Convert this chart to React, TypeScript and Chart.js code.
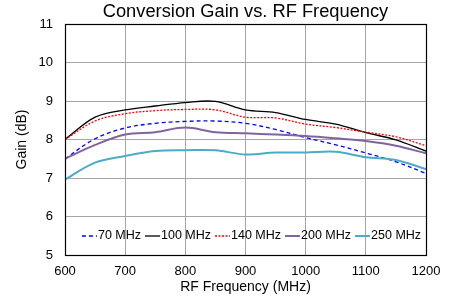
import React, { useEffect, useRef } from "react";
import { Chart, registerables } from "chart.js";

Chart.register(...registerables);

// RF frequency (MHz)
const FREQ = [600, 650, 700, 750, 800, 850, 900, 950, 1000, 1050, 1100, 1150, 1200];

// Conversion gain (dB) per IF frequency
const G70 = [7.5, 8.02, 8.3, 8.42, 8.47, 8.48, 8.42, 8.26, 8.05, 7.86, 7.65, 7.42, 7.12];
const G100 = [8.0, 8.58, 8.77, 8.87, 8.96, 8.99, 8.77, 8.7, 8.52, 8.4, 8.18, 7.99, 7.7];
const G140 = [8.0, 8.48, 8.67, 8.75, 8.78, 8.77, 8.58, 8.56, 8.4, 8.31, 8.19, 8.07, 7.84];
const G200 = [7.5, 7.86, 8.13, 8.19, 8.31, 8.19, 8.16, 8.13, 8.09, 8.03, 7.96, 7.84, 7.64];
const G250 = [6.96, 7.4, 7.57, 7.7, 7.72, 7.72, 7.61, 7.66, 7.66, 7.68, 7.54, 7.47, 7.23];

const SERIES_NAMES = ["70 MHz", "100 MHz", "140 MHz", "200 MHz", "250 MHz"];

const X_MIN = 600;
const X_MAX = 1200;
const X_STEP = 100;
const Y_MIN = 5;
const Y_MAX = 11;
const Y_STEP = 1;

const TITLE = "Conversion Gain vs. RF Frequency";
const X_TITLE = "RF Frequency (MHz)";
const Y_TITLE = "Gain (dB)";

const FONT = "'Liberation Sans', Arial, Helvetica, sans-serif";

export default function App() {
  const ref = useRef<HTMLCanvasElement>(null);

  useEffect(() => {
    if (!ref.current) return;
    Chart.defaults.font.family = FONT;

    const styles = [
      { color: "#0000ff", width: 1.3, dash: [4, 3] },
      { color: "#000000", width: 1.3, dash: [] as number[] },
      { color: "#ff0000", width: 1.3, dash: [2, 1.5] },
      { color: "#8064a2", width: 2, dash: [] as number[] },
      { color: "#4bacc6", width: 2, dash: [] as number[] },
    ];
    const values = [G70, G100, G140, G200, G250];

    const datasets = values.map((v, i) => ({
      label: SERIES_NAMES[i],
      data: FREQ.map((f, j) => ({ x: f, y: v[j] })),
      borderColor: styles[i].color,
      backgroundColor: styles[i].color,
      borderWidth: styles[i].width,
      borderDash: styles[i].dash,
      pointRadius: 0,
      tension: 0.35,
      fill: false,
      order: 5 - i,
    }));

    const framePlugin = {
      id: "frame",
      afterDatasetsDraw(chart: any) {
        const { ctx, chartArea: a } = chart;
        ctx.save();
        ctx.strokeStyle = "#000";
        ctx.lineWidth = 1.2;
        ctx.setLineDash([]);
        ctx.strokeRect(Math.round(a.left) + 0.5, Math.round(a.top) + 0.5, Math.round(a.right - a.left), Math.round(a.bottom - a.top));
        ctx.restore();
      },
    };

    const titlePlugin = {
      id: "plotTitle",
      afterDraw(chart: any) {
        const { ctx, chartArea: a } = chart;
        ctx.save();
        ctx.font = `18.3px ${FONT}`;
        ctx.fillStyle = "#000";
        ctx.textAlign = "center";
        ctx.textBaseline = "middle";
        ctx.fillText(TITLE, (a.left + a.right) / 2, a.top - 12);
        ctx.restore();
      },
    };

    const legendPlugin = {
      id: "innerLegend",
      afterDatasetsDraw(chart: any) {
        const { ctx, chartArea: a } = chart;
        ctx.save();
        ctx.font = `12.5px ${FONT}`;
        ctx.textBaseline = "middle";
        ctx.textAlign = "left";
        const sample = 15;
        const textGap = 1;
        const itemGap = 4;
        const y = a.bottom - 19;
        const widths = SERIES_NAMES.map((n) => ctx.measureText(n).width);
        const total = widths.reduce((s, w) => s + sample + textGap + w, 0) + itemGap * (SERIES_NAMES.length - 1);
        let x = (a.left + a.right) / 2 + 6 - total / 2;
        SERIES_NAMES.forEach((n, i) => {
          ctx.strokeStyle = styles[i].color;
          ctx.lineWidth = styles[i].width;
          ctx.setLineDash(styles[i].dash);
          ctx.beginPath();
          ctx.moveTo(x, y);
          ctx.lineTo(x + sample, y);
          ctx.stroke();
          ctx.setLineDash([]);
          ctx.fillStyle = "#000";
          ctx.fillText(n, x + sample + textGap, y);
          x += sample + textGap + widths[i] + itemGap;
        });
        ctx.restore();
      },
    };

    const chart = new Chart(ref.current, {
      type: "line",
      data: { datasets },
      options: {
        responsive: false,
        animation: false,
        layout: { padding: { left: 0, right: 30, top: 24, bottom: 0 } },
        plugins: {
          legend: { display: false },
          tooltip: { enabled: false },
          title: { display: false },
        },
        scales: {
          x: {
            type: "linear",
            min: X_MIN,
            max: X_MAX,
            ticks: {
              stepSize: X_STEP,
              color: "#000",
              font: { size: 13 },
              padding: 9,
              maxRotation: 0,
              callback: (v: any) => String(v),
            },
            grid: { color: "#a6a6a6", lineWidth: 1, drawTicks: false },
            border: { color: "#000", width: 1 },
            title: {
              display: true,
              text: X_TITLE,
              color: "#000",
              font: { size: 14 },
              padding: { top: 0, bottom: 3.6 },
            },
            afterFit: (s: any) => {
              s.height = 44;
            },
          },
          y: {
            type: "linear",
            min: Y_MIN,
            max: Y_MAX,
            ticks: {
              stepSize: Y_STEP,
              color: "#000",
              font: { size: 13 },
              padding: 12,
              callback: (v: any) => String(v),
            },
            grid: { color: "#a6a6a6", lineWidth: 1, drawTicks: false },
            border: { color: "#000", width: 1 },
            title: {
              display: true,
              text: Y_TITLE,
              color: "#000",
              font: { size: 14 },
              padding: { top: 13.6, bottom: 0 },
            },
            afterFit: (s: any) => {
              s.width = 65;
            },
          },
        },
      } as any,
      plugins: [framePlugin, legendPlugin, titlePlugin],
    });

    return () => chart.destroy();
  }, []);

  return (
    <div style={{ position: "absolute", left: 0, top: 0, width: 456, height: 299 }}>
      <canvas ref={ref} width={456} height={299} style={{ display: "block", width: 456, height: 299 }} />
    </div>
  );
}
